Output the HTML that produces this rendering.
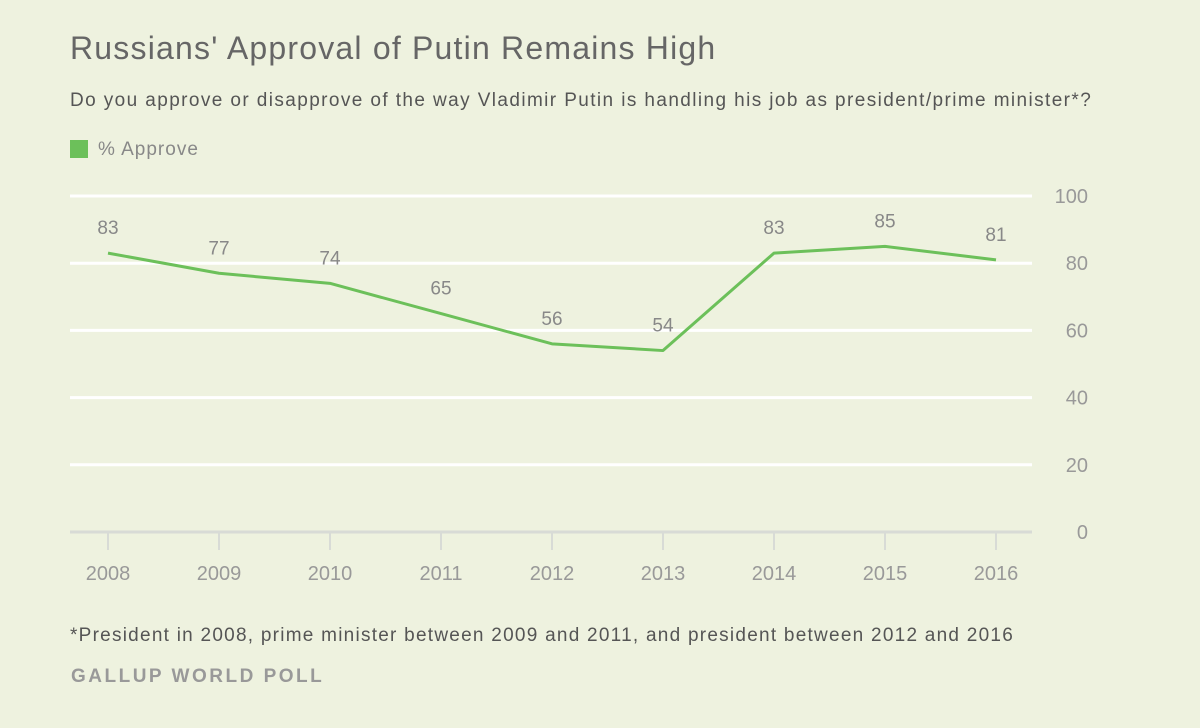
<!DOCTYPE html>
<html><head><meta charset="utf-8"><style>
body{margin:0;width:1200px;height:728px;background:#eef2df;font-family:"Liberation Sans",sans-serif;overflow:hidden;position:relative}
.t{position:absolute;white-space:nowrap}
</style></head><body>
<div class="t" style="left:70px;top:30px;font-size:32px;letter-spacing:1.2px;color:#666">Russians' Approval of Putin Remains High</div>
<div class="t" style="left:70px;top:90px;font-size:19px;letter-spacing:1.4px;color:#555">Do you approve or disapprove of the way Vladimir Putin is handling his job as president/prime minister*?</div>
<div class="t" style="left:70px;top:139px;font-size:19px;letter-spacing:1px;color:#888"><span style="display:inline-block;width:18px;height:18px;background:#6cc05a;vertical-align:-3px;margin-right:10px"></span>% Approve</div>
<svg id="chart" width="1200" height="728" style="position:absolute;left:0;top:0"></svg>
<div class="t" style="left:70px;top:625px;font-size:19px;letter-spacing:1.25px;color:#555">*President in 2008, prime minister between 2009 and 2011, and president between 2012 and 2016</div>
<div class="t" style="left:71px;top:666px;font-size:19px;color:#999;letter-spacing:2.5px;font-weight:bold">GALLUP WORLD POLL</div>
<script>
const years=["2008","2009","2010","2011","2012","2013","2014","2015","2016"];
const approve=[83,77,74,65,56,54,83,85,81];
const yTicks=[0,20,40,60,80,100];
const svg=document.getElementById('chart');
const NS='http://www.w3.org/2000/svg';
const x=i=>108+i*111;
const y=v=>532-v*3.36;
function mk(tag,attrs,text){const e=document.createElementNS(NS,tag);for(const k in attrs)e.setAttribute(k,attrs[k]);if(text!==undefined)e.textContent=text;svg.appendChild(e);return e;}
yTicks.forEach(v=>{
  const l=mk('line',{x1:70,x2:1032,y1:y(v),y2:y(v),stroke:v===0?'#d8dbd6':'#ffffff','stroke-width':3});
  
  
  const t=mk('text',{x:1088,y:y(v)+7,'text-anchor':'end','font-size':20,fill:'#999','font-family':'Liberation Sans'},v);
  
  
});
years.forEach((yr,i)=>{
  const tk=mk('line',{x1:x(i),x2:x(i),y1:532,y2:550,stroke:'#d8dbd6','stroke-width':2});
  
  
  const t=mk('text',{x:x(i),y:580,'text-anchor':'middle','font-size':20,fill:'#999','font-family':'Liberation Sans'},yr);
  
  
});
const p=mk('polyline',{points:approve.map((v,i)=>x(i)+','+y(v)).join(' '),fill:'none',stroke:'#6cc05a','stroke-width':3,'stroke-linejoin':'round'});


approve.forEach((v,i)=>{
  const t=mk('text',{x:x(i),y:y(v)-19,'text-anchor':'middle','font-size':19,fill:'#888','font-family':'Liberation Sans'},v);
  
  
});
</script>
</body></html>
